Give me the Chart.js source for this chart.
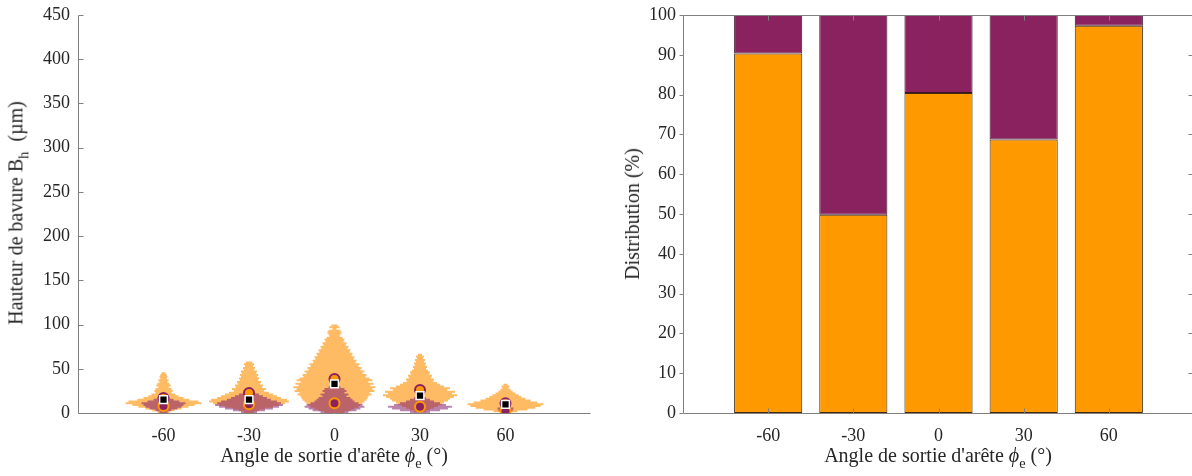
<!DOCTYPE html>
<html>
<head>
<meta charset="utf-8">
<script src="https://cdn.jsdelivr.net/npm/chart.js@4.4.1/dist/chart.umd.min.js"></script>
<style>
  html, body { margin: 0; padding: 0; background: #fff; }
  body { width: 1192px; height: 476px; overflow: hidden; position: relative; font-family: "Liberation Serif", serif; color: #262626; }
  .pane { position: absolute; top: 0; }
  .title { position: absolute; font-size: 20px; white-space: nowrap; line-height: 1; }
  .title sub { font-size: 0.72em; vertical-align: -0.4em; }
  .rot { transform: translate(-50%, -50%) rotate(-90deg); }
  .hor { transform: translateX(-50%); }
</style>
</head>
<body>
<div class="pane" style="left:0;width:600px;height:476px"><canvas id="burrChart" width="600" height="476"></canvas></div>
<div class="pane" style="left:600px;width:600px;height:476px"><canvas id="shareChart" width="600" height="476"></canvas></div>

<div class="title rot" style="left:18px;top:213px">Hauteur de bavure B<sub>h</sub>&nbsp; (µm)</div>
<div class="title hor" style="left:334px;top:445px">Angle de sortie d'arête <i>ϕ</i><sub>e</sub> (°)</div>
<div class="title rot" style="left:632px;top:214px">Distribution (%)</div>
<div class="title hor" style="left:938px;top:445px">Angle de sortie d'arête <i>ϕ</i><sub>e</sub> (°)</div>

<script>
// exit angles (deg)
const angles = [-60, -30, 0, 30, 60];
const angleTicks = [-60, -30, 0, 30, 60];

// violin profiles: [burr height (um), half width (deg)]
const orangeM60 = [[45,0.7],[43,1.1],[41,1.4],[39,1.1],[37,1.8],[35,1.4],[33,2.1],[31,2.5],[29,1.8],[27,2.8],[25,3.2],[23,2.8],[21,4.2],[19,5.3],[17,7.0],[15,9.1],[13,12.3],[11,13.3],[9,10.9],[7,8.8],[5,6.3],[3,3.9],[1,2.1]];
const orangeM30 = [[57,1.1],[55,1.8],[53,1.4],[51,2.1],[49,1.8],[47,2.8],[45,2.5],[43,3.2],[41,2.8],[39,3.5],[37,3.2],[35,4.2],[33,3.9],[31,4.9],[29,4.6],[27,6.0],[25,5.3],[23,7.0],[21,8.4],[19,9.8],[17,11.2],[15,13.3],[13,14.0],[11,12.6],[9,10.5],[7,8.4],[5,5.6],[3,3.5],[1,1.8]];
const orange0 = [[99,1.1],[97,1.8],[95,0.7],[93,2.1],[91,2.5],[89,2.1],[87,1.8],[85,2.8],[83,3.5],[81,3.2],[79,4.2],[77,3.9],[75,4.9],[73,4.6],[71,5.6],[69,5.3],[67,6.3],[65,6.0],[63,7.0],[61,6.7],[59,7.7],[57,7.4],[55,8.8],[53,8.4],[51,9.5],[49,9.1],[47,10.5],[45,9.8],[43,11.2],[41,10.9],[39,12.3],[37,13.3],[35,11.9],[33,13.7],[31,12.6],[29,14.4],[27,13.3],[25,14.0],[23,12.3],[21,13.0],[19,11.9],[17,11.6],[15,11.2],[13,10.5],[11,9.8],[9,9.1],[7,8.4],[5,7.0],[3,5.6],[1,3.5]];
const orangeP30 = [[66,0.7],[64,1.4],[62,1.1],[60,1.8],[58,1.4],[56,2.1],[54,1.8],[52,2.5],[50,2.1],[48,2.8],[46,3.5],[44,3.2],[42,4.2],[40,3.9],[38,4.9],[36,4.6],[34,6.0],[32,7.0],[30,8.4],[28,10.5],[26,9.5],[24,12.3],[22,11.2],[20,13.0],[18,11.9],[16,10.5],[14,9.8],[12,8.4],[10,7.7],[8,6.3],[6,4.9],[4,3.5],[2,2.1]];
const orangeP60 = [[32,0.7],[30,1.4],[28,1.1],[26,1.8],[24,2.5],[22,3.5],[20,4.6],[18,5.6],[16,7.0],[14,8.8],[12,11.2],[10,13.3],[8,12.3],[6,10.5],[4,7.7],[2,4.2]];

const purpleM60 = [[17,2.1],[15,3.5],[13,5.6],[11,7.7],[9,7.0],[7,6.3],[5,4.9],[3,2.8],[1,1.4]];
const purpleM30 = [[23,2.1],[21,3.5],[19,4.9],[17,6.3],[15,7.7],[13,9.8],[11,11.2],[9,11.9],[7,10.5],[5,8.4],[3,5.6],[1,2.8]];
const purple0 = [[29,2.1],[27,3.5],[25,4.2],[23,3.5],[21,4.9],[19,4.2],[17,5.6],[15,6.3],[13,7.0],[11,8.4],[9,9.8],[7,10.5],[5,9.1],[3,7.7],[1,4.9]];
const purpleP30 = [[17,2.1],[15,3.5],[13,4.9],[11,7.0],[9,9.1],[7,11.2],[5,9.8],[3,7.0],[1,3.5]];
const purpleP60 = [[9,1.1],[7,1.8],[5,2.8],[3,2.5],[1,1.1]];

const orangeProfiles = [orangeM60, orangeM30, orange0, orangeP30, orangeP60];
const purpleProfiles = [purpleM60, purpleM30, purple0, purpleP30, purpleP60];

// summary markers (um)
const meanUpper = [17, 22.6, 38.4, 26, 11];
const meanLower = [8, 10, 11, 7, 2.3];
const medianAll = [15, 15, 33, 19.6, 9.8];

// distribution (%)
const shareOrange = [90.3, 49.8, 80.4, 68.7, 97.3];
const sharePurple = [9.7, 50.2, 19.6, 31.3, 2.7];

const ORANGE = '#FF9900';
const PURPLE = '#8B2260';
const AXIS = '#808080';
const FONT = { family: 'Liberation Serif', size: 18 };

function violinSegments(profiles) {
    var pts = [];
    profiles.forEach(function(prof, i) {
        var c = angles[i];
        prof.forEach(function(p) {
            pts.push({x: c - p[1], y: p[0]});
            pts.push({x: c + p[1], y: p[0]});
            pts.push({x: c, y: null});
        });
    });
    return pts;
}

function pairs(values) {
    return values.map(function(v, i) { return {x: angles[i], y: v}; });
}

// axis lines and ticks, MATLAB style
const framePlugin = {
    id: 'frame',
    afterDraw(chart, args, opts) {
        const ctx = chart.ctx, a = chart.chartArea;
        const xs = chart.scales.x, ys = chart.scales.y;
        const L = Math.round(a.left) + 0.5, R = Math.round(a.right) - 0.5;
        const T = Math.round(a.top) + 0.5, B = Math.round(a.bottom) + 0.5;
        ctx.save();
        ctx.strokeStyle = AXIS;
        ctx.lineWidth = 1;
        ctx.beginPath();
        if (opts.box) {
            ctx.rect(L, T, R - L, B - T);
        } else {
            ctx.moveTo(L, T); ctx.lineTo(L, B); ctx.lineTo(R, B);
        }
        ys.ticks.forEach(function(t) {
            var y = Math.round(ys.getPixelForValue(t.value)) + 0.5;
            if (opts.yOut) { ctx.moveTo(L, y); ctx.lineTo(L - 4, y); }
            else { ctx.moveTo(L, y); ctx.lineTo(L + 5, y); }
            if (opts.box) { ctx.moveTo(R, y); ctx.lineTo(R - 5, y); }
        });
        if (opts.xTicks) {
            angleTicks.forEach(function(v) {
                var x = Math.round(xs.getPixelForValue(v)) + 0.5;
                ctx.moveTo(x, B); ctx.lineTo(x, B - 5);
                ctx.moveTo(x, T); ctx.lineTo(x, T + 5);
            });
        }
        ctx.stroke();
        ctx.restore();
    }
};

function xAxis() {
    return {
        type: 'linear', min: -90, max: 90, offset: false,
        afterFit: function(s) { s.height = 63; s.paddingLeft = 0; s.paddingRight = 0; },
        afterBuildTicks: function(s) { s.ticks = [-90, -60, -30, 0, 30, 60, 90].map(function(v) { return {value: v}; }); },
        ticks: {
            padding: 12, color: '#262626', font: FONT, maxRotation: 0, autoSkip: false,
            callback: function(v) { return angleTicks.indexOf(v) >= 0 ? String(v) : ''; }
        },
        grid: { display: false, drawTicks: false },
        border: { display: false }
    };
}

function yAxis(max, step, width, pad) {
    return {
        type: 'linear', min: 0, max: max,
        afterFit: function(s) { s.width = width; s.paddingTop = 0; s.paddingBottom = 0; },
        ticks: { stepSize: step, padding: pad, color: '#262626', font: FONT },
        grid: { display: false, drawTicks: false },
        border: { display: false }
    };
}

new Chart(document.getElementById('burrChart').getContext('2d'), {
    type: 'scatter',
    data: {
        datasets: [
        {
            type: 'line', label: 'violin orange', data: violinSegments(orangeProfiles),
            borderColor: 'rgba(255,160,40,0.72)', borderWidth: 2, pointRadius: 0,
            spanGaps: false, borderCapStyle: 'butt', order: 10
        },
        {
            type: 'line', label: 'violin purple', data: violinSegments(purpleProfiles),
            borderColor: 'rgba(130,30,110,0.55)', borderWidth: 2, pointRadius: 0,
            spanGaps: false, borderCapStyle: 'butt', order: 9
        },
        {
            label: 'moyenne haute', data: pairs(meanUpper), pointStyle: 'circle', pointRadius: 5,
            backgroundColor: ORANGE, borderColor: PURPLE, borderWidth: 2, order: 3
        },
        {
            label: 'moyenne basse', data: pairs(meanLower), pointStyle: 'circle', pointRadius: 5,
            backgroundColor: PURPLE, borderColor: ORANGE, borderWidth: 2, order: 2
        },
        {
            label: 'mediane', data: pairs(medianAll), pointStyle: 'rect', pointRadius: 5.5,
            backgroundColor: '#000', borderColor: '#fff', borderWidth: 1.5, order: 1
        }
        ]
    },
    options: {
        responsive: false, devicePixelRatio: 1, animation: false,
        layout: { padding: { top: 15, right: 9, left: 0, bottom: 0 } },
        scales: {
            x: xAxis(),
            y: yAxis(450, 50, 78, 8)
        },
        plugins: {
            legend: { display: false },
            tooltip: { enabled: false },
            frame: { box: false, yOut: false, xTicks: false }
        }
    },
    plugins: [framePlugin]
});

new Chart(document.getElementById('shareChart').getContext('2d'), {
    type: 'bar',
    data: {
        datasets: [
        {
            label: 'orange', data: pairs(shareOrange), backgroundColor: ORANGE,
            borderColor: '#3f2a12', borderWidth: 1, borderSkipped: false,
            barPercentage: 1, categoryPercentage: 0.8
        },
        {
            label: 'violet', data: pairs(sharePurple), backgroundColor: PURPLE,
            borderColor: '#3f1028', borderWidth: 1, borderSkipped: false,
            barPercentage: 1, categoryPercentage: 0.8
        }
        ]
    },
    options: {
        responsive: false, devicePixelRatio: 1, animation: false,
        layout: { padding: { top: 15, right: 6, left: 0, bottom: 0 } },
        scales: {
            x: Object.assign(xAxis(), { stacked: true }),
            y: Object.assign(yAxis(100, 10, 83, 7), { stacked: true })
        },
        plugins: {
            legend: { display: false },
            tooltip: { enabled: false },
            frame: { box: true, yOut: true, xTicks: true }
        }
    },
    plugins: [framePlugin]
});
</script>
</body>
</html>
